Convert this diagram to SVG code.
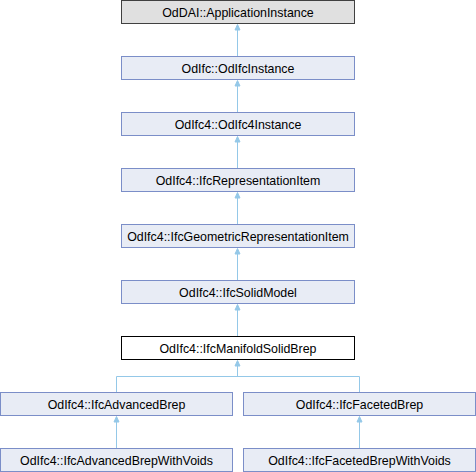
<svg xmlns="http://www.w3.org/2000/svg" width="476" height="472" viewBox="0 0 476 472">
<defs>
<style>
.n rect{fill:#e8ecf5;stroke:#7b8ec8;stroke-width:1}
.n text{font-family:"Liberation Sans",Arial,sans-serif;font-size:12.4px;fill:#000;text-anchor:middle}
#n0 rect{fill:#e0e0e0;stroke:#404040}
#n6 rect{fill:#ffffff;stroke:#000000}
.e path{fill:none;stroke:#94c8e8;stroke-width:1}
.e polygon{fill:#94c8e8;stroke:#94c8e8;stroke-width:1}
</style>
</defs>
<g class="e">
<path d="M237.5,29 V56.5"/><polygon points="237.5,24.5 240,30 235,30"/>
<path d="M237.5,85 V112.5"/><polygon points="237.5,80.5 240,86 235,86"/>
<path d="M237.5,141 V168.5"/><polygon points="237.5,136.5 240,142 235,142"/>
<path d="M237.5,197 V224.5"/><polygon points="237.5,192.5 240,198 235,198"/>
<path d="M237.5,253 V280.5"/><polygon points="237.5,248.5 240,254 235,254"/>
<path d="M237.5,309 V336.5"/><polygon points="237.5,304.5 240,310 235,310"/>
<path d="M237.5,365 V376.5 M116.5,376.5 H359.5 M116.5,376.5 V392.5 M359.5,376.5 V392.5"/><polygon points="237.5,360.5 240,366 235,366"/>
<path d="M116.5,421 V448.5"/><polygon points="116.5,416.5 119,422 114,422"/>
<path d="M359.5,421 V448.5"/><polygon points="359.5,416.5 362,422 357,422"/>
</g>
<g id="n0" class="n"><rect x="121.5" y="0.5" width="233" height="23"/><text x="238" y="16.5">OdDAI::ApplicationInstance</text></g>
<g id="n1" class="n"><rect x="121.5" y="56.5" width="233" height="23"/><text x="238" y="72.5">OdIfc::OdIfcInstance</text></g>
<g id="n2" class="n"><rect x="121.5" y="112.5" width="233" height="23"/><text x="238" y="128.5">OdIfc4::OdIfc4Instance</text></g>
<g id="n3" class="n"><rect x="121.5" y="168.5" width="233" height="23"/><text x="238" y="184.5">OdIfc4::IfcRepresentationItem</text></g>
<g id="n4" class="n"><rect x="121.5" y="224.5" width="233" height="23"/><text x="238" y="240.5">OdIfc4::IfcGeometricRepresentationItem</text></g>
<g id="n5" class="n"><rect x="121.5" y="280.5" width="233" height="23"/><text x="238" y="296.5">OdIfc4::IfcSolidModel</text></g>
<g id="n6" class="n"><rect x="121.5" y="336.5" width="233" height="23"/><text x="238" y="352.5">OdIfc4::IfcManifoldSolidBrep</text></g>
<g id="n7" class="n"><rect x="0.5" y="392.5" width="232" height="23"/><text x="116.5" y="408.5">OdIfc4::IfcAdvancedBrep</text></g>
<g id="n8" class="n"><rect x="243.5" y="392.5" width="232" height="23"/><text x="359.5" y="408.5">OdIfc4::IfcFacetedBrep</text></g>
<g id="n9" class="n"><rect x="0.5" y="448.5" width="232" height="23"/><text x="116.5" y="464.5">OdIfc4::IfcAdvancedBrepWithVoids</text></g>
<g id="n10" class="n"><rect x="243.5" y="448.5" width="232" height="23"/><text x="359.5" y="464.5">OdIfc4::IfcFacetedBrepWithVoids</text></g>
</svg>
